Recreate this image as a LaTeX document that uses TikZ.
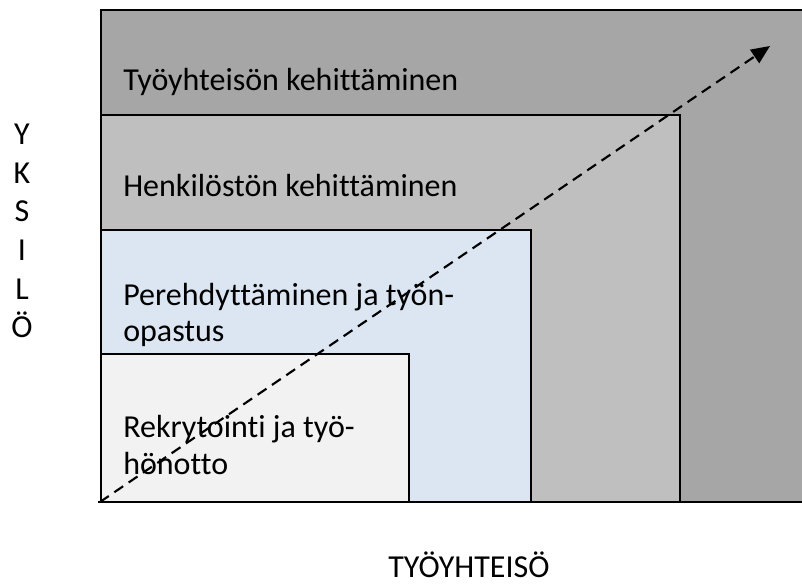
\documentclass[tikz,border=0pt]{standalone}
\usepackage{fontspec}
\setmainfont{Carlito}[Ligatures=CommonOff]
\usetikzlibrary{arrows.meta}
\definecolor{outerc}{HTML}{A6A6A6}
\definecolor{secondc}{HTML}{BFBFBF}
\definecolor{thirdc}{HTML}{DCE6F2}
\definecolor{fourthc}{HTML}{F2F2F2}
\tikzset{
  layer/.style={draw=black, line width=1.3pt},
  lbl/.style={font=\fontsize{24}{27.5}\selectfont, align=left, anchor=west, inner sep=0pt, text=black},
  axislbl/.style={font=\fontsize{24}{29}\selectfont, inner sep=0pt, text=black, align=center},
  growth/.style={line width=1.6pt, dash pattern=on 8pt off 5pt, -{Triangle[length=14pt,width=12pt]}}
}
\begin{document}
\begin{tikzpicture}[x=0.75pt,y=-0.75pt]
\useasboundingbox (0,0) rectangle (802,584);
\begin{scope}
\clip (0,0) rectangle (802,584);
\filldraw[layer, fill=outerc] (101,10) rectangle (830,502);
\filldraw[layer, fill=secondc] (101,115) rectangle (680,502);
\filldraw[layer, fill=thirdc] (101,230) rectangle (531,502);
\filldraw[layer, fill=fourthc] (101,354) rectangle (409,502);
\draw[layer] (98,502) -- (830,502);
\end{scope}
\node[lbl] (l1) at (123,82) {Työyhteisön kehittäminen};
\node[lbl] (l2) at (123,186) {Henkilöstön kehittäminen};
\node[lbl] (l3) at (123,315) {Perehdyttäminen ja työn-\\opastus};
\node[lbl] (l4) at (123,445) {Rekrytointi ja työ-\\hönotto};
\node[axislbl] (yks) at (22,231) {Y\\K\\S\\I\\L\\Ö};
\node[axislbl, anchor=base] (tyo) at (469,577) {TYÖYHTEISÖ};
\coordinate (start) at (100,502);
\coordinate (end) at (770,46);
\draw[growth] (start) -- (end);
\end{tikzpicture}
\end{document}
